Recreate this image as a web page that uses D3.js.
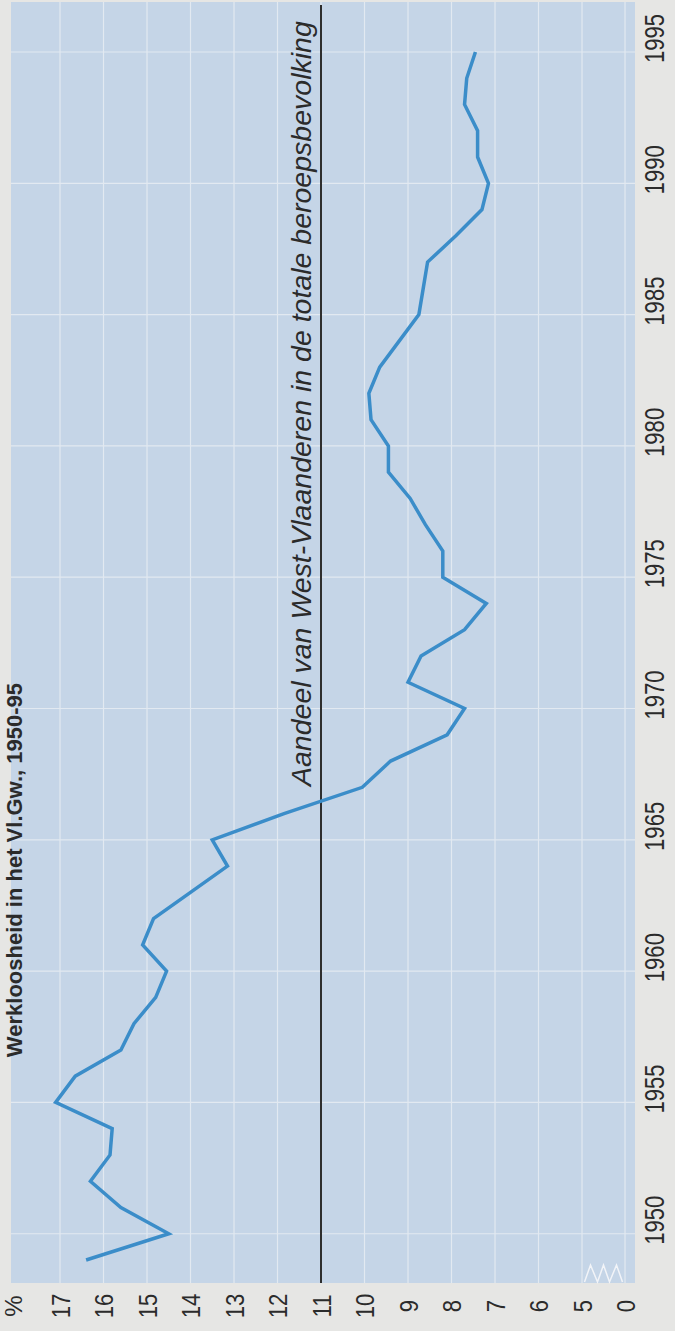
<!DOCTYPE html>
<html>
<head>
<meta charset="utf-8">
<script src="https://cdn.jsdelivr.net/npm/d3@7"></script>
<style>
  html, body { margin: 0; padding: 0; background: #e6e6e4; }
  svg { display: block; }
  text { font-family: "Liberation Sans", Arial, Helvetica, sans-serif; fill: #2b2b2b; }
</style>
</head>
<body>
<div id="chart"></div>
<script>
// share of West Flanders in the total unemployment, 1949-1995
const years = [1949, 1950, 1951, 1952, 1953, 1954, 1955, 1956, 1957, 1958, 1959,
  1960, 1961, 1962, 1963, 1964, 1965, 1966, 1967, 1968, 1969,
  1970, 1971, 1972, 1973, 1974, 1975, 1976, 1977, 1978, 1979,
  1980, 1981, 1982, 1983, 1984, 1985, 1986, 1987, 1988, 1989,
  1990, 1991, 1992, 1993, 1994, 1995];
const share = [16.4, 14.5, 15.6, 16.3, 15.85, 15.8, 17.1, 16.65, 15.6, 15.3, 14.8,
  14.55, 15.1, 14.85, 14.0, 13.15, 13.5, 11.85, 10.05, 9.4, 8.1,
  7.7, 9.0, 8.7, 7.7, 7.2, 8.2, 8.2, 8.6, 8.95, 9.45,
  9.45, 9.85, 9.9, 9.65, 9.2, 8.75, 8.65, 8.55, 7.9, 7.3,
  7.15, 7.4, 7.4, 7.7, 7.65, 7.45];

// reference: share of West Flanders in the total labour force
const labourShare = 11;
const labourLabel = "Aandeel van West-Vlaanderen in de totale beroepsbevolking";

const valueTicks = [17, 16, 15, 14, 13, 12, 11, 10, 9, 8, 7, 6, 5, 0];
const yearTicks = [1950, 1955, 1960, 1965, 1970, 1975, 1980, 1985, 1990, 1995];
const title = "Werkloosheid in het Vl.Gw., 1950-95";

const width = 675;
const height = 1331;
const plot = { left: 11, right: 635, top: 2, bottom: 1283 };

const svg = d3.select("#chart").append("svg")
  .attr("width", width)
  .attr("height", height);

// value axis runs right to left, broken between 5 and 0
const x = d3.scaleLinear()
  .domain([0, 5, 17])
  .range([625, 582, 60]);

const y = d3.scaleLinear()
  .domain([1949, 1995])
  .range([1260, 52]);

svg.append("rect")
  .attr("x", plot.left)
  .attr("y", plot.top)
  .attr("width", plot.right - plot.left)
  .attr("height", plot.bottom - plot.top)
  .attr("fill", "#c5d5e7");

// grid
svg.append("g")
  .selectAll("line")
  .data(valueTicks)
  .join("line")
  .attr("x1", d => x(d))
  .attr("x2", d => x(d))
  .attr("y1", plot.top)
  .attr("y2", plot.bottom)
  .attr("stroke", "#e2e9f1")
  .attr("stroke-width", 1.2);

svg.append("g")
  .selectAll("line")
  .data(yearTicks)
  .join("line")
  .attr("x1", plot.left)
  .attr("x2", plot.right)
  .attr("y1", d => y(d))
  .attr("y2", d => y(d))
  .attr("stroke", "#e2e9f1")
  .attr("stroke-width", 1.2);

// axis break mark
const bx = (x(0) + x(5)) / 2;
svg.append("path")
  .attr("d", d3.line()([
    [bx - 19, plot.bottom - 1], [bx - 13, plot.bottom - 18], [bx - 6, plot.bottom - 1],
    [bx, plot.bottom - 18], [bx + 6, plot.bottom - 1], [bx + 13, plot.bottom - 18], [bx + 19, plot.bottom - 1]
  ]))
  .attr("fill", "none")
  .attr("stroke", "#f2f4f8")
  .attr("stroke-width", 1.5);

// reference line + label
svg.append("line")
  .attr("x1", x(labourShare))
  .attr("x2", x(labourShare))
  .attr("y1", 5)
  .attr("y2", plot.bottom)
  .attr("stroke", "#2e2e2e")
  .attr("stroke-width", 2);

svg.append("text")
  .attr("transform", `translate(${x(labourShare) - 10},786) rotate(-90)`)
  .attr("font-size", 28.5)
  .attr("font-style", "italic")
  .attr("fill", "#2b2b2b")
  .text(labourLabel);

// the series
const line = d3.line()
  .x((d, i) => x(share[i]))
  .y(d => y(d));

svg.append("path")
  .datum(years)
  .attr("d", line)
  .attr("fill", "none")
  .attr("stroke", "#3b8dc9")
  .attr("stroke-width", 3.5)
  .attr("stroke-linejoin", "miter");

// value axis labels
const xAxis = svg.append("g")
  .attr("transform", "translate(0,1306)")
  .call(d3.axisBottom(x).tickValues(valueTicks).tickSize(0).tickFormat(d3.format("d")));
xAxis.select(".domain").remove();
xAxis.selectAll("text")
  .attr("x", 0)
  .attr("y", 0)
  .attr("dy", "0.35em")
  .attr("text-anchor", "middle")
  .attr("transform", "rotate(-90) scale(0.85,1)")
  .attr("font-size", 26)
  .attr("font-family", null)
  .attr("fill", "#2b2b2b");

svg.append("text")
  .attr("transform", "translate(14,1306) rotate(-90)")
  .attr("dy", "0.35em")
  .attr("text-anchor", "middle")
  .attr("font-size", 24)
  .text("%");

// year axis labels
const yAxis = svg.append("g")
  .attr("transform", "translate(655,0)")
  .call(d3.axisRight(y).tickValues(yearTicks).tickSize(0).tickFormat(d3.format("d")));
yAxis.select(".domain").remove();
yAxis.selectAll("text")
  .attr("x", 0)
  .attr("y", 0)
  .attr("dy", "0.35em")
  .attr("text-anchor", "middle")
  .attr("transform", "translate(0,-14) rotate(-90) scale(0.82,1)")
  .attr("font-size", 27)
  .attr("font-family", null)
  .attr("fill", "#2b2b2b");

// title along the left page edge
svg.append("text")
  .attr("transform", "translate(22,683) rotate(-90)")
  .attr("text-anchor", "end")
  .attr("font-size", 22)
  .attr("font-weight", "bold")
  .text(title);
</script>
</body>
</html>
